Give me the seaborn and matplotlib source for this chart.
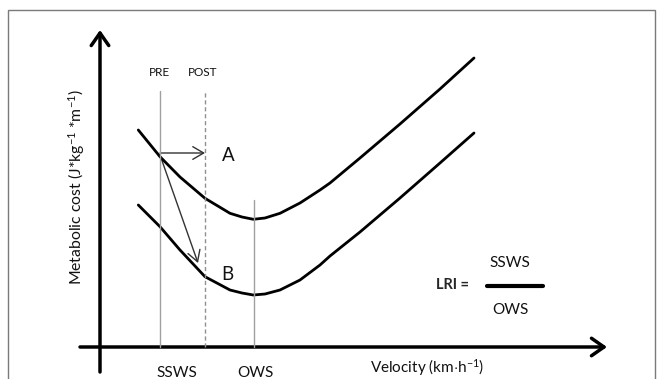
import matplotlib
matplotlib.use("Agg")
import matplotlib.pyplot as plt
import seaborn as sns
import pandas as pd
from matplotlib.patches import Rectangle, FancyArrowPatch

sns.set_theme(style="white")
plt.rcParams['font.family'] = ['Lato', 'DejaVu Sans']
plt.rcParams['mathtext.fontset'] = 'custom'
plt.rcParams['mathtext.rm'] = 'Lato'
plt.rcParams['mathtext.it'] = 'Lato'

# ---- data (conceptual units: velocity, metabolic cost) ----
velocity = [3.83, 6.0, 8.0, 10.5, 13.0, 14.2, 15.33, 16.5, 18.0, 20.0, 22.0, 23.0, 26.0, 30.0, 34.0, 37.4]
cost_A   = [21.7, 19.03, 17.0, 14.87, 13.37, 13.0, 12.77, 12.9, 13.37, 14.4, 15.7, 16.4, 18.9, 22.3, 25.8, 28.9]
cost_B   = [14.2, 12.03, 9.7, 7.03, 5.7, 5.4, 5.2, 5.3, 5.7, 6.7, 8.2, 9.1, 11.5, 14.9, 18.4, 21.4]

pre_v, post_v, ows_v = 6.0, 10.5, 15.4
guide_top_prepost, guide_top_ows = 25.6, 14.7
arrow_h = [(6.0, 19.4), (10.5, 19.4)]
arrow_d = [(6.0, 19.2), (9.8, 8.4)]

df = pd.DataFrame({"v": velocity * 2,
                   "c": cost_A + cost_B,
                   "curve": ["A"] * len(velocity) + ["B"] * len(velocity)})

fig = plt.figure(figsize=(6.57, 3.79), dpi=100)
ax = fig.add_axes([0, 0, 1, 1])
ax.set_xlim(-10, 55.7)
ax.set_ylim(-3.2, 34.7)
ax.axis("off")

# frame
fig.patches.append(Rectangle((8 / 657, -0.2), (655 - 8) / 657, 1.2 - 10 / 379,
                             transform=fig.transFigure, fill=False,
                             edgecolor="#7a7a7a", lw=1.0, zorder=0))

# curves
sns.lineplot(data=df, x="v", y="c", units="curve", estimator=None, color="black",
             lw=2.0, ax=ax, sort=False, legend=False,
             solid_joinstyle="round", solid_capstyle="round")

# guide lines
ax.plot([pre_v, pre_v], [0, guide_top_prepost], color="#a0a0a0", lw=1.0)
ax.plot([post_v, post_v], [0, guide_top_prepost], color="#909090", lw=1.0, ls=(0, (3, 2)))
ax.plot([ows_v, ows_v], [0, guide_top_ows], color="#a0a0a0", lw=1.0)

# arrows
for (p0, p1) in (arrow_h, arrow_d):
    ax.add_patch(FancyArrowPatch(p0, p1, arrowstyle="->,head_length=0.6,head_width=0.35",
                                 mutation_scale=13, color="#333333", lw=1.0,
                                 shrinkA=0, shrinkB=0))

# axes arrows
ax.add_patch(FancyArrowPatch((0, -2.5), (0, 31.7), arrowstyle="->,head_length=0.5,head_width=0.35",
                             mutation_scale=18, color="black", lw=2.5, shrinkA=0, shrinkB=0))
ax.add_patch(FancyArrowPatch((-2.0, 0), (50.7, 0), arrowstyle="->,head_length=0.5,head_width=0.35",
                             mutation_scale=18, color="black", lw=2.5, shrinkA=0, shrinkB=0))

# texts
txt = "#111111"
ax.text(5.9, 27.5, "PRE", ha="center", va="center", fontsize=8.5, color=txt)
ax.text(10.3, 27.5, "POST", ha="center", va="center", fontsize=8.5, color=txt)
ax.text(12.8, 19.2, "A", ha="center", va="center", fontsize=13.5, color=txt)
ax.text(12.7, 7.2, "B", ha="center", va="center", fontsize=13.5, color=txt)
ax.text(7.7, -1.9, "SSWS", ha="center", va="top", fontsize=11, color=txt)
ax.text(15.5, -1.9, "OWS", ha="center", va="top", fontsize=11, color=txt)
ax.text(32.7, -2.6, r"Velocity (km$\cdot$h$^{-1}$)", ha="center", va="baseline",
        fontsize=11, color=txt)
ax.text(-2.3, 16.0, r"Metabolic cost (J*kg$^{-1}$ *m$^{-1}$)", rotation=90,
        ha="center", va="center", fontsize=11.3, color=txt)
ax.text(35.3, 6.2, "LRI =", ha="center", va="center", fontsize=10.5, fontweight="bold")
ax.text(41.0, 8.4, "SSWS", ha="center", va="center", fontsize=11, color=txt)
ax.text(41.0, 3.7, "OWS", ha="center", va="center", fontsize=11, color=txt)
ax.plot([38.7, 44.3], [6.1, 6.1], color="black", lw=3)

fig.savefig("out.png", dpi=100)
